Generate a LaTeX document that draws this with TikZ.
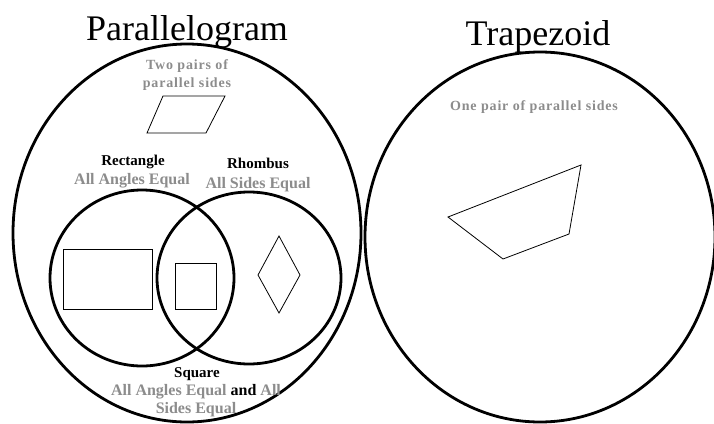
\documentclass[tikz,border=0pt]{standalone}
\usepackage{fontspec}
\setmainfont{Liberation Serif}
\usetikzlibrary{positioning}
\definecolor{ashgray}{RGB}{140,140,140}

\begin{document}
\begin{tikzpicture}[x=1pt,y=-1pt,
  ring/.style={line width=2.8pt},
  outline/.style={line width=0.8pt},
  title/.style={font=\fontsize{36}{40}\selectfont,anchor=base,inner sep=0pt},
  prop/.style={font=\bfseries\fontsize{16}{18}\selectfont,text=ashgray,anchor=base,align=center,inner sep=0pt},
  spaced/.style={font=\bfseries\fontsize{14}{18}\selectfont\addfontfeature{LetterSpace=6}},
  kind/.style={font=\bfseries\fontsize{15}{18}\selectfont,anchor=base,inner sep=0pt}]
  \useasboundingbox (0,0) rectangle (714,423);
  % the sets
  \draw[ring] (187,233) ellipse [x radius=174, y radius=189];
  \draw[ring] (540,237) ellipse [x radius=175, y radius=185];
  \draw[ring] (142,278) ellipse [x radius=92, y radius=88];
  \draw[ring] (249,278) ellipse [x radius=92, y radius=86];
  % example shapes
  \draw[outline] (163,96) -- (225,96) -- (206,133) -- (147,133) -- cycle;
  \draw[outline] (63,249) rectangle (152,309);
  \draw[outline] (175,263) rectangle (216,309);
  \draw[outline] (279,236) -- (300,275) -- (279,313) -- (258,275) -- cycle;
  \draw[outline] (448,217) -- (581,165) -- (569,234) -- (503,259) -- cycle;
  % labels (base of a two-line node is its last line)
  \node[title] (paraT) at (187,40) {Parallelogram};
  \node[title] (trapT) at (538,45) {Trapezoid};
  \node[prop,spaced] (paraP) at (187,87) {Two pairs of\\parallel sides};
  \node[prop,spaced] (trapP) at (534,110) {One pair of parallel sides};
  \node[kind] (rectT) at (133,165) {Rectangle};
  \node[prop] (rectP) at (132,184) {All Angles Equal};
  \node[kind] (rhomT) at (258,168) {Rhombus};
  \node[prop] (rhomP) at (258,188) {All Sides Equal};
  \node[kind] (sqT) at (197,377) {Square};
  \node[prop] (sqP) at (196,413) {All Angles Equal \textcolor{black}{and} All\\Sides Equal};
\end{tikzpicture}
\end{document}
